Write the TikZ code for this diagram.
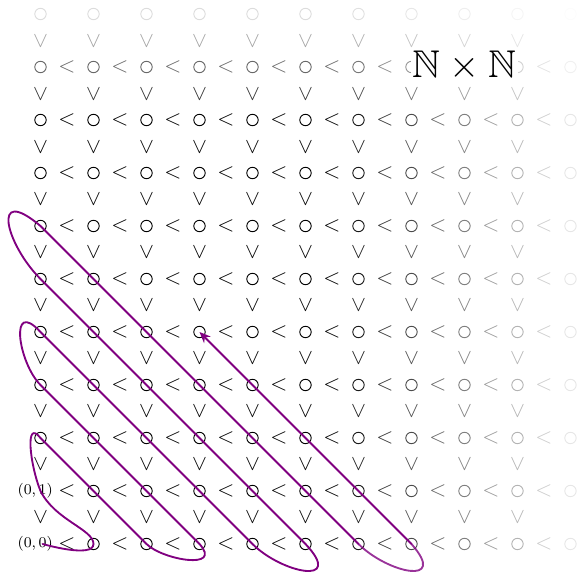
\documentclass[tikz,border=0pt]{standalone}
\usepackage{amssymb}
\usetikzlibrary{arrows.meta}
\definecolor{walkpurple}{RGB}{128,0,128}
\tikzset{
  dot/.style={circle, draw, minimum size=0.215cm, inner sep=0pt, line width=0.5pt},
  sym/.style={inner sep=0pt, font=\fontsize{11.5}{13}\selectfont},
  coordlabel/.style={inner sep=0pt, font=\footnotesize},
  bigtitle/.style={fill=white, inner sep=1pt, font=\huge},
  walk/.style={draw=walkpurple, line width=1pt, line join=round, line cap=round}
}
\begin{document}
\begin{tikzpicture}
\useasboundingbox (-0.764,-0.528) rectangle (10.142,10.264);
\foreach \i in {0,...,10}{
  \foreach \j in {0,...,10}{
    \pgfmathsetmacro\fxa{min(1,max(0,(10.5-\i)/5))}
    \pgfmathsetmacro\fxb{min(1,max(0,(10.0-\i)/5))}
    \pgfmathsetmacro\fya{min(1,max(0,(10.3-\j)/2.2))}
    \pgfmathsetmacro\fyb{min(1,max(0,(9.8-\j)/2.2))}
    \pgfmathsetmacro\opc{\fxa*\fya}
    \pgfmathsetmacro\oplt{\fxb*\fya}
    \pgfmathsetmacro\opv{\fxa*\fyb}
    \pgfmathtruncatemacro\islabel{((\i==0)&&(\j<2))||((\i==8)&&(\j==9))}
    \pgfmathtruncatemacro\hidden{(\j==9)&&((\i==7)||(\i==8))}
    \ifnum\islabel=0
      \node[dot, draw opacity=\opc] (c-\i-\j) at (\i,\j) {};
    \fi
    \ifnum\i<10 \ifnum\j<10
      \ifnum\hidden=0
        \node[sym, text opacity=\oplt] (lt-\i-\j) at (\i+0.5,\j) {$<$};
      \fi
      \node[sym, rotate=90, text opacity=\opv] (up-\i-\j) at (\i,\j+0.5) {$<$};
    \fi\fi
  }
}
\node[coordlabel] (p00) at (-0.1,0) {$(0,0)$};
\node[coordlabel] (p01) at (-0.1,1) {$(0,1)$};
\node[bigtitle] (title) at (8,9.03) {$\mathbb{N}\times\mathbb{N}$};
\coordinate (start) at (0.04,0);
\draw[walk] (start) .. controls (0.04,0) and (1,-0.2775) .. (1,0)
  .. controls (1,0.2775) and (0.2775,0.445) .. (0,1)
  .. controls (-0.2,1.5) and (-0.3,2.38) .. (0,2)
  -- (2,0)
  .. controls (2.3,-0.3) and (3.45,-0.5) .. (3,0)
  -- (0,3)
  .. controls (-0.42,3.42) and (-0.6,4.65) .. (0,4)
  -- (4,0)
  .. controls (4.55,-0.55) and (5.75,-0.8) .. (5,0)
  -- (0,5)
  .. controls (-0.65,5.65) and (-0.95,6.8) .. (0,6)
  -- (6,0);
\draw[walk, draw opacity=0.8] (6,0) .. controls (6.55,-0.55) and (7.7,-0.8) .. (7,0);
\draw[walk, -{Stealth[length=6pt,width=5pt]}] (7,0) -- (c-3-4.center);
\end{tikzpicture}
\end{document}
